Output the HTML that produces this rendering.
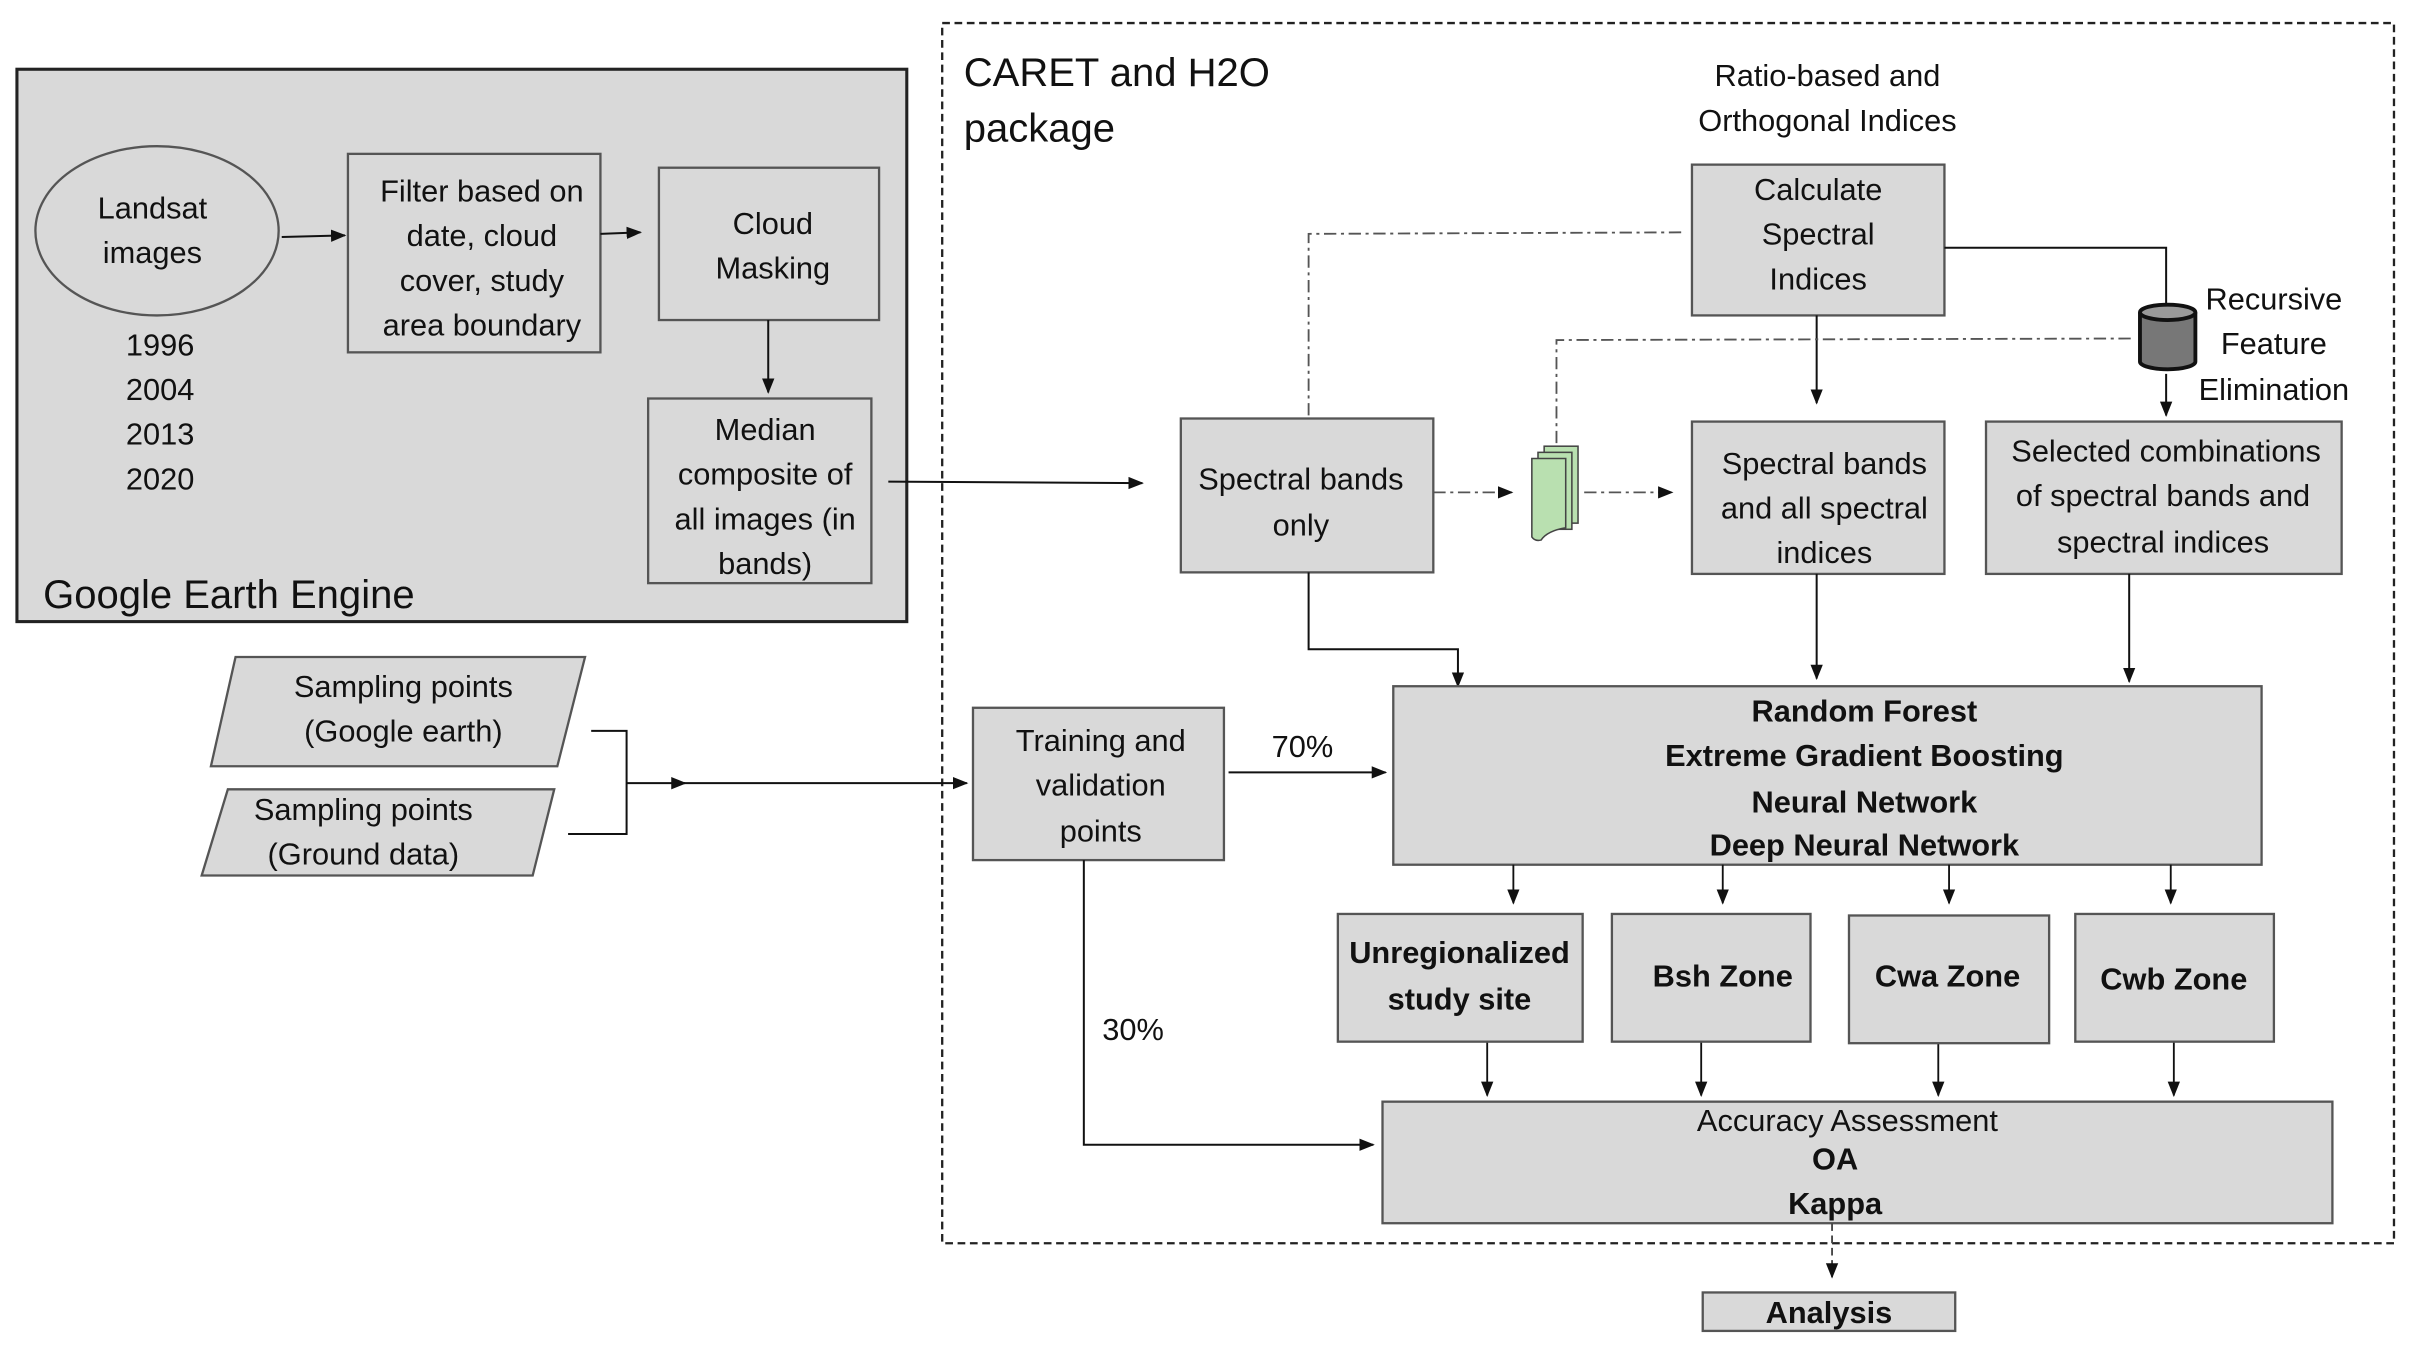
<!DOCTYPE html>
<html><head><meta charset="utf-8"><style>html,body{margin:0;padding:0;background:#fff}svg{display:block}text{font-family:"Liberation Sans",sans-serif;fill:#111}</style></head>
<body>
<svg width="2414" height="1354" viewBox="0 0 1568 880" preserveAspectRatio="none" xmlns="http://www.w3.org/2000/svg">
<defs>
<marker id="a" markerWidth="10" markerHeight="10" refX="9" refY="5" orient="auto" markerUnits="userSpaceOnUse"><path d="M0,1 L10,5 L0,9 z" fill="#111"/></marker>
</defs>
<g font-size="20" text-anchor="middle">
<!-- GEE -->
<rect x="11" y="45" width="578" height="359" fill="#d9d9d9" stroke="#222" stroke-width="2"/>
<ellipse cx="102" cy="150" rx="79" ry="55" fill="#d9d9d9" stroke="#555" stroke-width="1.5"/>
<text x="99" y="142">Landsat</text><text x="99" y="171">images</text>
<text x="104" y="231">1996</text><text x="104" y="260">2004</text><text x="104" y="289">2013</text><text x="104" y="318">2020</text>
<rect x="226" y="100" width="164" height="129" fill="#d9d9d9" stroke="#555" stroke-width="1.5"/>
<text x="313" y="131">Filter based on</text><text x="313" y="160">date, cloud</text><text x="313" y="189">cover, study</text><text x="313" y="218">area boundary</text>
<rect x="428" y="109" width="143" height="99" fill="#d9d9d9" stroke="#555" stroke-width="1.5"/>
<text x="502" y="152">Cloud</text><text x="502" y="181">Masking</text>
<rect x="421" y="259" width="145" height="120" fill="#d9d9d9" stroke="#555" stroke-width="1.5"/>
<text x="497" y="286">Median</text><text x="497" y="315">composite of</text><text x="497" y="344">all images (in</text><text x="497" y="373">bands)</text>
<text x="28" y="395" font-size="26" text-anchor="start">Google Earth Engine</text>
<g stroke="#111" stroke-width="1.3" fill="none" marker-end="url(#a)">
<line x1="183" y1="154" x2="224" y2="153"/>
<line x1="390" y1="152" x2="416" y2="151"/>
<line x1="499" y1="208" x2="499" y2="255"/>
<line x1="577" y1="313" x2="742" y2="314"/>
</g>
<!-- container -->
<rect x="612" y="15" width="943" height="793" fill="none" stroke="#222" stroke-width="1.5" stroke-dasharray="5,3"/>
<text x="626" y="56" font-size="26" text-anchor="start">CARET and H2O</text>
<text x="626" y="92" font-size="26" text-anchor="start">package</text>
<text x="1187" y="56">Ratio-based and</text><text x="1187" y="85">Orthogonal Indices</text>
<rect x="1099" y="107" width="164" height="98" fill="#d9d9d9" stroke="#555" stroke-width="1.5"/>
<text x="1181" y="130">Calculate</text><text x="1181" y="159">Spectral</text><text x="1181" y="188">Indices</text>
<rect x="767" y="272" width="164" height="100" fill="#d9d9d9" stroke="#555" stroke-width="1.5"/>
<text x="845" y="318">Spectral bands</text><text x="845" y="348">only</text>
<rect x="1099" y="274" width="164" height="99" fill="#d9d9d9" stroke="#555" stroke-width="1.5"/>
<text x="1185" y="308">Spectral bands</text><text x="1185" y="337">and all spectral</text><text x="1185" y="366">indices</text>
<rect x="1290" y="274" width="231" height="99" fill="#d9d9d9" stroke="#555" stroke-width="1.5"/>
<text x="1407" y="300">Selected combinations</text><text x="1405" y="329">of spectral bands  and</text><text x="1405" y="359">spectral indices</text>
<text x="1477" y="201">Recursive</text><text x="1477" y="230">Feature</text><text x="1477" y="260">Elimination</text>
<!-- doc icon -->
<g stroke="#444" stroke-width="1" fill="#b9e0b0">
<rect x="1003" y="290" width="22" height="50"/><rect x="999" y="294" width="22" height="50"/>
<path d="M995,298 h22 v45 q-12,2 -16,8 q-4,1 -6,-2 z"/>
</g>
<!-- cylinder -->
<g stroke="#111" stroke-width="2.5" fill="#777">
<path d="M1390,203 v32 a18,5 0 0 0 36,0 v-32"/>
<ellipse cx="1408" cy="203" rx="18" ry="5" fill="#999"/>
</g>
<g stroke="#111" stroke-width="1.3" fill="none">
<polyline points="1263,161 1407,161 1407,197"/>
<polyline points="850,372 850,422 947,422 947,446" marker-end="url(#a)"/>
<line x1="1407" y1="243" x2="1407" y2="270" marker-end="url(#a)"/>
<line x1="1180" y1="205" x2="1180" y2="262" marker-end="url(#a)"/>
<line x1="1180" y1="373" x2="1180" y2="441" marker-end="url(#a)"/>
<line x1="1383" y1="373" x2="1383" y2="443" marker-end="url(#a)"/>
</g>
<g stroke="#555" stroke-width="1.2" fill="none" stroke-dasharray="8,3,2,3">
<polyline points="850,270 850,152 1095,151"/>
<polyline points="1011,288 1011,221 1386,220"/>
<line x1="931" y1="320" x2="982" y2="320" marker-end="url(#a)"/>
<line x1="1029" y1="320" x2="1086" y2="320" marker-end="url(#a)"/>
</g>
<!-- model -->
<rect x="905" y="446" width="564" height="116" fill="#d9d9d9" stroke="#555" stroke-width="1.5"/>
<g font-weight="bold">
<text x="1211" y="469">Random Forest</text><text x="1211" y="498">Extreme Gradient Boosting</text>
<text x="1211" y="528">Neural Network</text><text x="1211" y="556">Deep Neural Network</text>
</g>
<g stroke="#111" stroke-width="1.2" marker-end="url(#a)">
<line x1="983" y1="562" x2="983" y2="587"/><line x1="1119" y1="562" x2="1119" y2="587"/>
<line x1="1266" y1="562" x2="1266" y2="587"/><line x1="1410" y1="562" x2="1410" y2="587"/>
<line x1="966" y1="677" x2="966" y2="712"/><line x1="1105" y1="677" x2="1105" y2="712"/>
<line x1="1259" y1="678" x2="1259" y2="712"/><line x1="1412" y1="677" x2="1412" y2="712"/>
</g>
<g fill="#d9d9d9" stroke="#555" stroke-width="1.5">
<rect x="869" y="594" width="159" height="83"/><rect x="1047" y="594" width="129" height="83"/>
<rect x="1201" y="595" width="130" height="83"/><rect x="1348" y="594" width="129" height="83"/>
<rect x="898" y="716" width="617" height="79"/>
<rect x="1106" y="840" width="164" height="25"/>
</g>
<g font-weight="bold">
<text x="948" y="626">Unregionalized</text><text x="948" y="656">study site</text>
<text x="1119" y="641">Bsh Zone</text><text x="1265" y="641">Cwa Zone</text><text x="1412" y="643">Cwb Zone</text>
<text x="1192" y="760">OA</text><text x="1192" y="789">Kappa</text>
<text x="1188" y="860">Analysis</text>
</g>
<text x="1200" y="735">Accuracy Assessment</text>
<line x1="1190" y1="795" x2="1190" y2="830" stroke="#444" stroke-width="1.2" stroke-dasharray="5,3" marker-end="url(#a)"/>
<!-- sampling -->
<g fill="#d9d9d9" stroke="#555" stroke-width="1.5">
<polygon points="153,427 380,427 362,498 137,498"/>
<polygon points="148,513 360,513 346,569 131,569"/>
<rect x="632" y="460" width="163" height="99"/>
</g>
<text x="262" y="453">Sampling  points</text><text x="262" y="482">(Google earth)</text>
<text x="236" y="533">Sampling  points</text><text x="236" y="562">(Ground data)</text>
<text x="715" y="488">Training and</text><text x="715" y="517">validation</text><text x="715" y="547">points</text>
<text x="846" y="492">70%</text><text x="736" y="676">30%</text>
<g stroke="#111" stroke-width="1.3" fill="none">
<polyline points="384,475 407,475 407,542 369,542"/>
<line x1="407" y1="509" x2="445" y2="509" marker-end="url(#a)"/>
<line x1="440" y1="509" x2="628" y2="509" marker-end="url(#a)"/>
<line x1="798" y1="502" x2="900" y2="502" marker-end="url(#a)"/>
<polyline points="704,559 704,744 892,744" marker-end="url(#a)"/>
</g>
</g>
</svg>
</body></html>
